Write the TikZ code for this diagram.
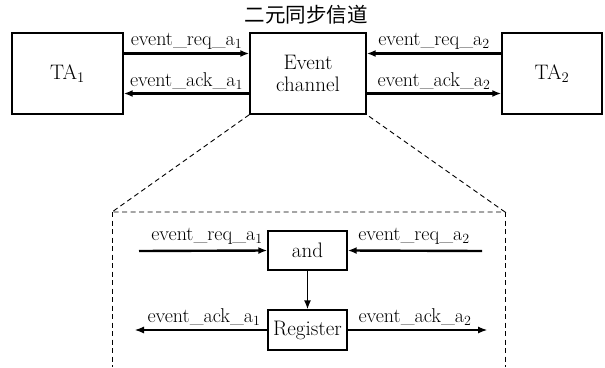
\documentclass[tikz,border=0pt]{standalone}
\usepackage{fontspec}
\newfontfamily\cjk{Noto Sans CJK SC}
\usetikzlibrary{arrows.meta}
\begin{document}
\begin{tikzpicture}[x=1pt,y=-1pt,
  box/.style={draw, line width=1.4pt, inner sep=0pt, font=\fontsize{21}{23}\selectfont, align=center},
  lab/.style={font=\fontsize{20}{22}\selectfont, inner sep=1pt},
  fatarrow/.style={line width=2.4pt, -{Latex[length=9pt,width=7pt]}},
  thinarrow/.style={line width=1.1pt, -{Latex[length=9pt,width=7pt]}},
  zoomline/.style={line width=0.9pt, dash pattern=on 5pt off 3.5pt}]
\useasboundingbox (0,0) rectangle (605,367);
% title
\node[font=\cjk\fontsize{20.5}{23}\selectfont] (title) at (306,15) {二元同步信道};
% top boxes
\node[box, minimum width=111pt, minimum height=81pt] (TA1) at (67.5,73.5) {TA\textsubscript{1}};
\node[box, minimum width=116pt, minimum height=81pt] (ch) at (308,73.5) {Event\\[-1pt]channel};
\node[box, minimum width=100pt, minimum height=81pt] (TA2) at (552,73.5) {TA\textsubscript{2}};
% top arrows
\draw[fatarrow] ([yshift=20pt]TA1.east) -- node[lab, above=2pt] (l1) {event\_req\_a\textsubscript{1}} ([yshift=20pt]ch.west);
\draw[fatarrow] ([yshift=-20pt]ch.west) -- node[lab, above=2pt] (l2) {event\_ack\_a\textsubscript{1}} ([yshift=-20pt]TA1.east);
\draw[fatarrow] ([yshift=20pt]TA2.west) -- node[lab, above=2pt] (l3) {event\_req\_a\textsubscript{2}} ([yshift=20pt]ch.east);
\draw[fatarrow] ([yshift=-20pt]ch.east) -- node[lab, above=2pt] (l4) {event\_ack\_a\textsubscript{2}} ([yshift=-20pt]TA2.west);
% zoom frame
\coordinate (zl) at (112,212);
\coordinate (zr) at (505,212);
\coordinate (zlb) at (112,367);
\coordinate (zrb) at (505,367);
\draw[zoomline] (ch.south west) -- (zl) -- (zr) -- (ch.south east);
\draw[zoomline] (zl) -- (zlb);
\draw[zoomline] (zr) -- (zrb);
% inner boxes
\node[box, minimum width=79pt, minimum height=39pt] (and) at (307.5,250.5) {and};
\node[box, minimum width=79pt, minimum height=40pt] (reg) at (307.5,330) {Register};
\coordinate (inl) at (139,251);
\coordinate (inr) at (482,251);
\coordinate (outl) at (135,330);
\coordinate (outr) at (487,330);
\draw[fatarrow] (inl) -- (and.west);
\draw[fatarrow] (inr) -- (and.east);
\draw[thinarrow, line width=1.4pt] (and) -- (reg);
\draw[thinarrow] (reg.west) -- (outl);
\draw[thinarrow] (reg.east) -- (outr);
\node[lab, anchor=base] (l5) at (207,240) {event\_req\_a\textsubscript{1}};
\node[lab, anchor=base] (l6) at (414,240) {event\_req\_a\textsubscript{2}};
\node[lab, anchor=base] (l7) at (204,322) {event\_ack\_a\textsubscript{1}};
\node[lab, anchor=base] (l8) at (415,322) {event\_ack\_a\textsubscript{2}};
\end{tikzpicture}
\end{document}
